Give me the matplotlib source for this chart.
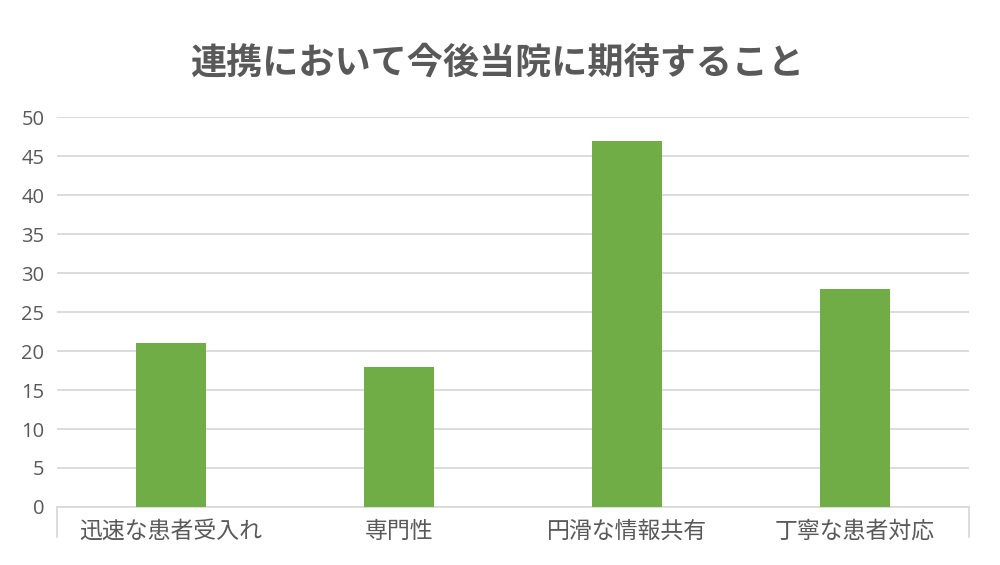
import matplotlib.pyplot as plt
import numpy as np

plt.rcParams['font.family'] = ['Noto Sans CJK JP', 'DejaVu Sans']

# Data
categories = ['迅速な患者受入れ', '専門性', '円滑な情報共有', '丁寧な患者対応']
values = [21, 18, 47, 28]
y_ticks = [0, 5, 10, 15, 20, 25, 30, 35, 40, 45, 50]
title = '連携において今後当院に期待すること'

bar_color = '#70AD47'
text_color = '#595959'
grid_color = '#D9D9D9'

fig = plt.figure(figsize=(10, 5.65), dpi=100)
ax = fig.add_axes([0.057, 0.1027, 0.912, 0.690])

x = np.arange(len(categories))
ax.bar(x, values, width=0.31, color=bar_color, zorder=3)

ax.set_xlim(-0.5, len(categories) - 0.5)
ax.set_ylim(0, 50)
ax.set_yticks(y_ticks)
ax.set_xticks(x)
ax.set_xticklabels(categories)
for lab in ax.get_yticklabels():
    lab.set_family(['Open Sans', 'DejaVu Sans'])

ax.grid(axis='y', color=grid_color, linewidth=1.3, zorder=0)
for s in ['top', 'right', 'left']:
    ax.spines[s].set_visible(False)
ax.spines['bottom'].set_color(grid_color)
ax.spines['bottom'].set_linewidth(1.3)

ax.tick_params(axis='y', length=0, pad=9, labelsize=14.5, labelcolor=text_color)
ax.tick_params(axis='x', length=0, pad=9, labelsize=16.5, labelcolor=text_color)

# edge tick marks below the axis
for xe in [0, 1]:
    ax.plot([xe, xe], [0, -0.078], transform=ax.transAxes, color=grid_color,
            linewidth=1.3, clip_on=False)

fig.text(0.497, 0.888, title, ha='center', va='center', fontsize=26,
         fontweight='bold', color=text_color)

fig.savefig('out.png', dpi=100)
